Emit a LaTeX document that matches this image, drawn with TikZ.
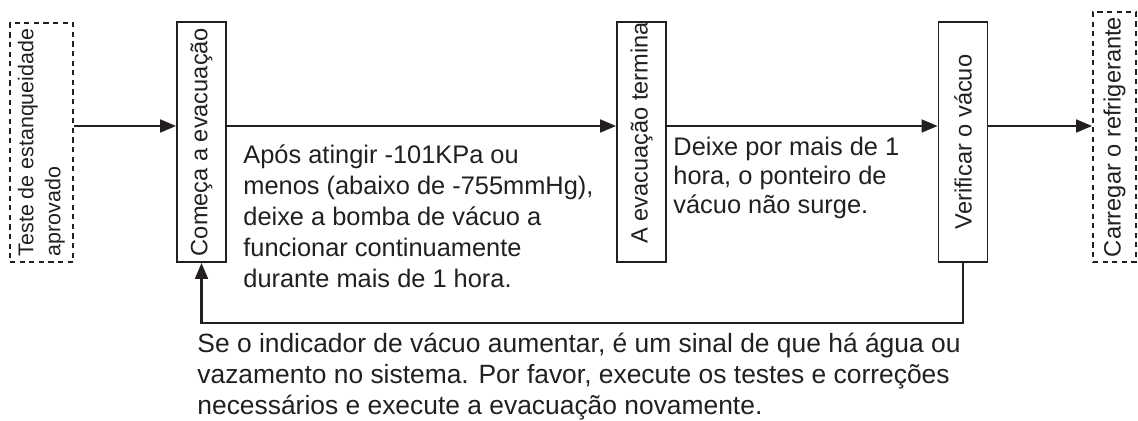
\documentclass[tikz,border=0pt]{standalone}
\usepackage{fontspec}
\usepackage{graphicx}
\setmainfont{Liberation Sans}
\usetikzlibrary{positioning, arrows.meta}
\definecolor{ink}{HTML}{231F20}
\newcommand{\flowfont}{\fontsize{11.8pt}{15pt}\selectfont}
\newcommand{\notefont}{\fontsize{12.7pt}{15.5pt}\selectfont}

\begin{document}
\begin{tikzpicture}[
  x=0.5pt, y=-0.5pt,
  box/.style={rectangle, draw=ink, line width=0.9pt, inner sep=0pt,
              minimum width=24.5pt, minimum height=120pt,
              font=\flowfont, text=ink},
  dbox/.style={box, dash pattern=on 2.6pt off 2.2pt},
  note/.style={anchor=north west, align=left, inner sep=0pt,
               font=\notefont, text=ink},
  arr/.style={-{Triangle[length=8pt, width=6.4pt]}, line width=1.2pt, draw=ink}
]
  \useasboundingbox (0,0) rectangle (1138,421);

  \node[dbox, minimum width=31.5pt, minimum height=119.5pt,
        font=\fontsize{10.7pt}{13.5pt}\selectfont] (test) at (41.5,142.5)
    {\rotatebox{90}{\begin{tabular}{@{}l@{}}Teste de estanqueidade\\aprovado\end{tabular}}};
  \node[box] (comeca)  at (201.5,142) {\rotatebox{90}{Começa a evacuação}};
  \node[box] (termina) at (641.5,142) {\rotatebox{90}{\hspace*{9pt}A evacuação termina}};
  \node[box] (verif)   at (963,142)   {\rotatebox{90}{Verificar o vácuo}};
  \node[dbox, minimum width=21.5pt, minimum height=125pt] (carga) at (1114.5,137)
    {\rotatebox{90}{Carregar o refrigerante}};

  \coordinate (lane) at (0,126);

  \draw[arr] (test.east |- lane)    -- (comeca.west |- lane);
  \draw[arr] (comeca.east |- lane)  -- (termina.west |- lane);
  \draw[arr] (termina.east |- lane) -- (verif.west |- lane);
  \draw[arr] (verif.east |- lane)   -- (carga.west |- lane);
  \draw[arr] (verif.south) -- ++(0,60) -| (comeca.south);

  \node[note] (pump) at (243,144)
    {Após atingir -101KPa ou\\menos (abaixo de -755mmHg),\\deixe a bomba de vácuo a\\funcionar continuamente\\durante mais de 1 hora.};
  \node[note, font=\fontsize{12.7pt}{14.5pt}\selectfont] (hold) at (673,137)
    {Deixe por mais de 1\\hora, o ponteiro de\\vácuo não surge.};
  \node[note, font=\fontsize{13.2pt}{15.3pt}\selectfont] (leak) at (197,333)
    {Se o indicador de vácuo aumentar, é um sinal de que há água ou\\vazamento no sistema. Por favor, execute os testes e correções\\necessários e execute a evacuação novamente.};
\end{tikzpicture}
\end{document}
